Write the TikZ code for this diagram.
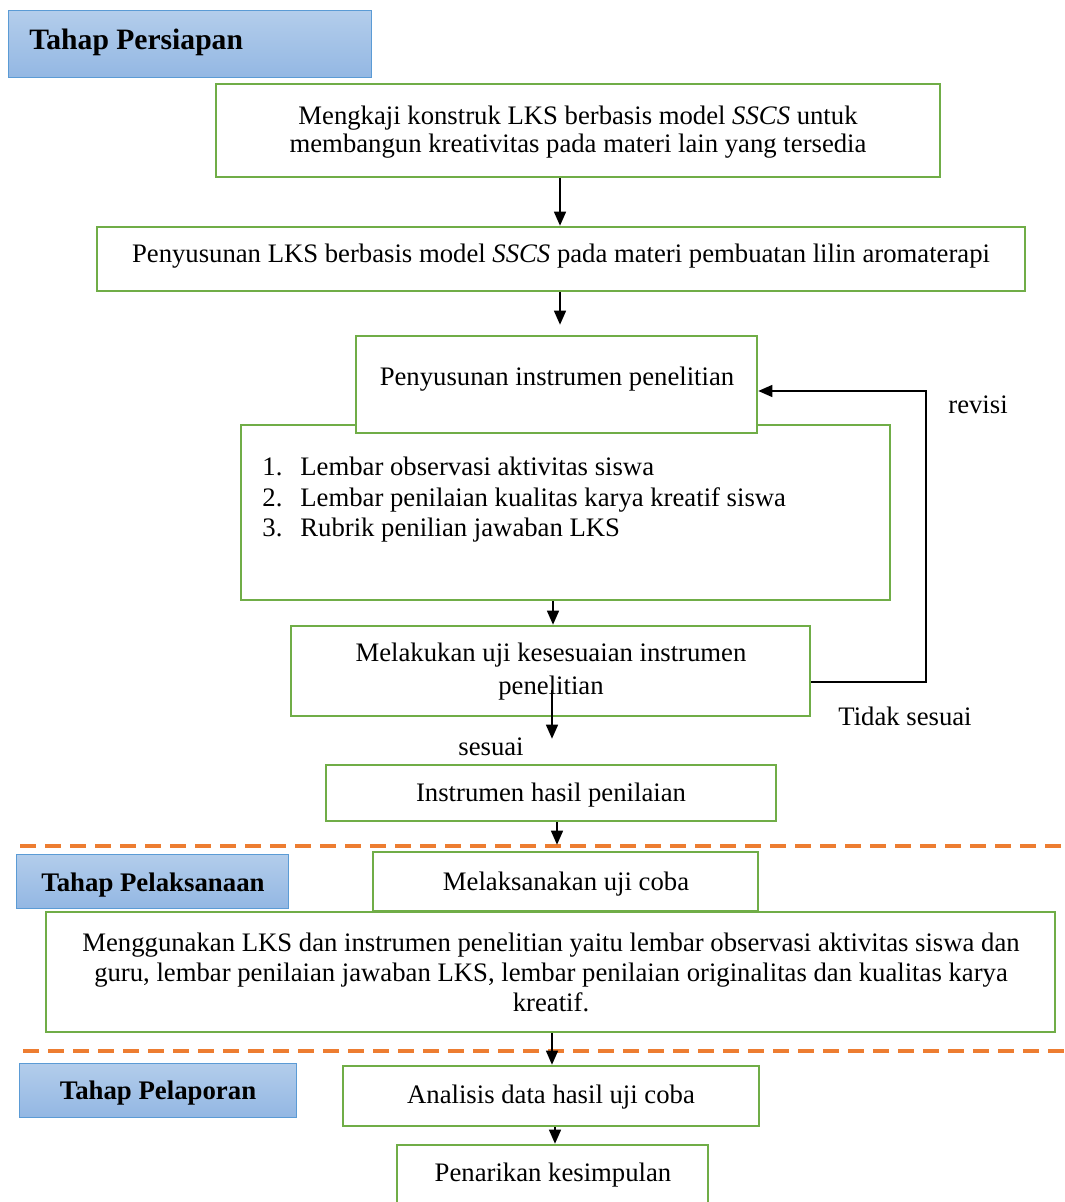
\documentclass[tikz,border=0pt]{standalone}
\usepackage{fontspec}
\setmainfont{Liberation Serif}
\usetikzlibrary{arrows.meta}
\definecolor{gborder}{HTML}{70AD47}
\definecolor{btop}{HTML}{B3CDEB}
\definecolor{bbot}{HTML}{93B7E3}
\definecolor{bline}{HTML}{5B9BD5}
\definecolor{dorange}{HTML}{ED7D31}
\newcommand\pbox[6]{\node[#6, minimum width={(#4-#2)*0.5pt}, minimum height={(#5-#3)*0.5pt}] (#1) at ({(#2+#4)/2},{(#3+#5)/2}) {};}
\begin{document}
\begin{tikzpicture}[x=0.5pt,y=-0.5pt,
 gbox/.style={draw=gborder, line width=1.3pt, fill=white, inner sep=0pt},
 hbox/.style={draw=bline, line width=0.5pt, top color=btop, bottom color=bbot, inner sep=0pt},
 arr/.style={-{Triangle[length=7pt,width=6pt]}, line width=0.7pt},
 dline/.style={draw=dorange, line width=1.9pt, dash pattern=on 8pt off 4.5pt},
 txt/.style={font=\fontsize{13.35}{14}\selectfont, inner sep=0pt, align=center},
 htxt/.style={font=\bfseries\fontsize{14.8}{16}\selectfont, inner sep=0pt},
 htxtb/.style={font=\bfseries\fontsize{13.4}{16}\selectfont, inner sep=0pt}]
\useasboundingbox (0,0) rectangle (1064,1202);
% header boxes
\pbox{h1}{8}{11}{371}{78}{hbox}
\pbox{h2}{16}{854}{288}{908}{hbox}
\pbox{h3}{19}{1063}{296}{1117}{hbox}
\node[htxt, anchor=west] (th1) at (29,42) {Tahap Persiapan};
\node[htxtb] (th2) at (153,885) {Tahap Pelaksanaan};
\node[htxtb] (th3) at (158,1093) {Tahap Pelaporan};
% boxes
\pbox{b1}{216}{84}{940}{177}{gbox}
\pbox{b2}{97}{227}{1025}{291}{gbox}
\pbox{b4}{241}{425}{890}{600}{gbox}
\pbox{b3}{356}{336}{757}{433}{gbox}
\pbox{b5}{291}{626}{810}{716}{gbox}
\pbox{b6}{326}{765}{776}{821}{gbox}
\pbox{b8}{46}{912}{1055}{1032}{gbox}
\pbox{b7}{373}{852}{758}{911}{gbox}
\pbox{b9}{343}{1066}{759}{1126}{gbox}
\pbox{b10}{397}{1145}{708}{1215}{gbox}
% texts
\node[txt] (t1) at (578,132) {Mengkaji konstruk LKS berbasis model \textit{SSCS} untuk\\membangun kreativitas pada materi lain yang tersedia};
\node[txt] (t2) at (561,256) {Penyusunan LKS berbasis model \textit{SSCS} pada materi pembuatan lilin aromaterapi};
\node[txt] (t3) at (557,379) {Penyusunan instrumen penelitian};
\node[txt, align=left, anchor=west, font=\fontsize{13.35}{15.25}\selectfont] (t4) at (262,500) {\makebox[19pt][l]{1.}Lembar observasi aktivitas siswa\\\makebox[19pt][l]{2.}Lembar penilaian kualitas karya kreatif siswa\\\makebox[19pt][l]{3.}Rubrik penilian jawaban LKS};
\node[txt, font=\fontsize{13.35}{16.5}\selectfont] (t5) at (551,672) {Melakukan uji kesesuaian instrumen\\penelitian};
\node[txt] (t6) at (551,795) {Instrumen hasil penilaian};
\node[txt] (t7) at (566,884) {Melaksanakan uji coba};
\node[txt, font=\fontsize{13.35}{15}\selectfont] (t8) at (551,972) {Menggunakan LKS dan instrumen penelitian yaitu lembar observasi aktivitas siswa dan\\guru, lembar penilaian jawaban LKS, lembar penilaian originalitas dan kualitas karya\\kreatif.};
\node[txt] (t9) at (551,1097) {Analisis data hasil uji coba};
\node[txt] (t10) at (553,1175) {Penarikan kesimpulan};
\node[txt] (lrev) at (978,405) {revisi};
\node[txt] (ltid) at (905,716) {Tidak sesuai};
\node[txt] (lses) at (491,747) {sesuai};
% dashed separators
\coordinate (d1a) at (20,846); \coordinate (d1b) at (1064,846);
\coordinate (d2a) at (23,1051); \coordinate (d2b) at (1064,1051);
\draw[dline] (d1a) -- (d1b);
\draw[dline] (d2a) -- (d2b);
% arrows
\coordinate (x1) at (560,0);
\coordinate (x4) at (553,0);
\coordinate (x5) at (552,690);
\coordinate (x6) at (557,0);
\coordinate (x8) at (552,0);
\coordinate (x9) at (555,0);
\coordinate (fb) at (926,0);
\draw[arr] (b1.south -| x1) -- (b2.north -| x1);
\draw[arr, shorten >=5pt] (b2.south -| x1) -- (b3.north -| x1);
\draw[arr] (b4.south -| x4) -- (b5.north -| x4);
\draw[arr, shorten >=12.5pt] (x5) -- (b6.north -| x5);
\draw[arr, shorten >=3pt] (b6.south -| x6) -- (b7.north -| x6);
\draw[arr] (b8.south -| x8) -- (b9.north -| x8);
\draw[arr] (b9.south -| x9) -- (b10.north -| x9);
\coordinate (fy1) at (0,682);
\coordinate (fy2) at (0,391);
\draw[arr] (b5.east |- fy1) -- (fb |- fy1) -- (fb |- fy2) -- (b3.east |- fy2);
\end{tikzpicture}
\end{document}
